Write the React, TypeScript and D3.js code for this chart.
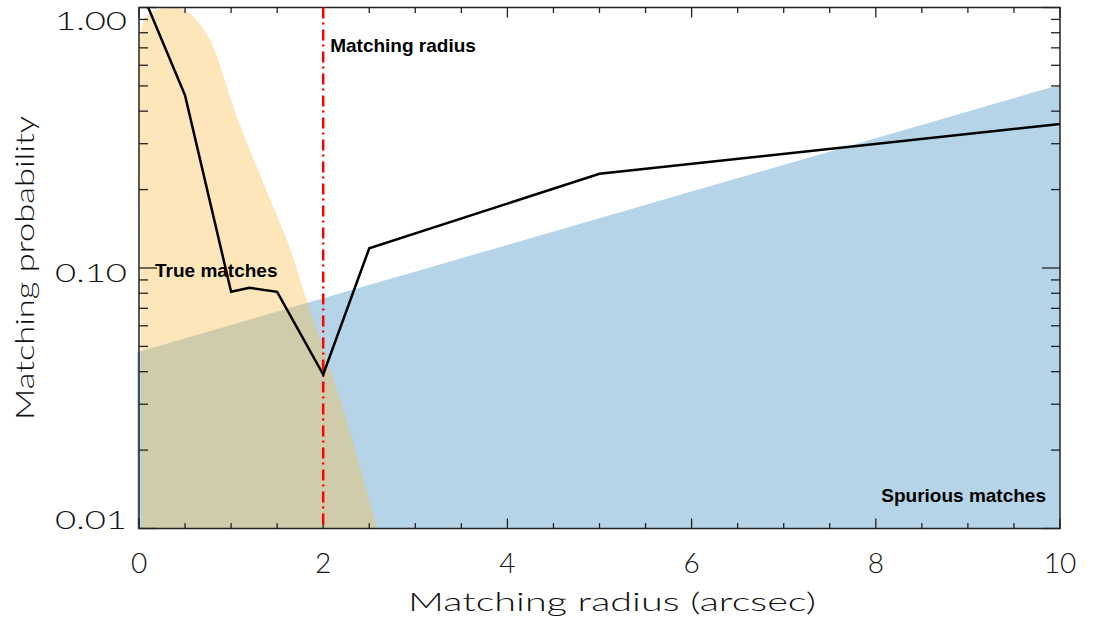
import React from "react";
import * as d3 from "d3";

// ---- data ----
const probX = [0.1, 0.5, 1.0, 1.2, 1.5, 2.0, 2.5, 5.0, 10];
const probY = [1.0, 0.46, 0.081, 0.084, 0.081, 0.039, 0.119, 0.23, 0.357];

const trueX = [0.033, 0.027, 0.016, 0.005, 0.011, 0.043, 0.098, 0.206, 0.391, 0.5, 0.63, 0.738, 0.825, 0.879, 0.952, 1.097, 1.278, 1.455, 1.64, 1.748, 1.821, 2.2, 2.584];
const trueY = [0.01, 0.0313, 0.183, 0.629, 0.798, 0.896, 0.953, 0.99, 1.0, 0.995, 0.896, 0.798, 0.687, 0.602, 0.496, 0.348, 0.245, 0.172, 0.121, 0.0902, 0.0741, 0.0313, 0.01];

const spurX = [-0.02, 10];
const spurY = [0.0475, 0.505];

const matchRadius = 2;

const xMajor = [0, 2, 4, 6, 8, 10];
const xMajorLabels = ["0", "2", "4", "6", "8", "10"];
const xMinor = d3.range(0, 10.01, 0.5);
const yMajor = [0.01, 0.1, 1];
const yMajorLabels = ["0.01", "0.10", "1.00"];
const yMinor = [0.02, 0.03, 0.04, 0.05, 0.06, 0.07, 0.08, 0.09, 0.2, 0.3, 0.4, 0.5, 0.6, 0.7, 0.8, 0.9];

const W = 1098, H = 621;
const L = 139, R = 1060, T = 7.5, B = 528.5;

export default function App() {
  const x = d3.scaleLinear().domain([0, 10]).range([L, R]);
  const y = d3.scaleLog().domain([0.01, 1]).range([B, T]);

  const probLine = d3.line<number>().x((d, i) => x(probX[i])).y((d, i) => y(probY[i]))(probX)!;
  const trueShape = d3
    .line<number>()
    .x((d, i) => x(trueX[i]))
    .y((d, i) => y(trueY[i]))
    .curve(d3.curveBasis)(trueX)! + "Z";
  const spurArea = d3
    .area<number>()
    .x((d, i) => x(spurX[i]))
    .y0(() => y(0.01))
    .y1((d, i) => y(spurY[i]))(spurX)!;

  const tickFont = "Lato, 'Open Sans', sans-serif";
  const boldFont = "'Liberation Sans', Arial, sans-serif";
  const axisCol = "#222";

  return (
    <svg width={W} height={H} style={{ position: "absolute", left: 0, top: 0, background: "#fff" }}>
      <defs>
        <clipPath id="plotclip">
          <rect x={L - 3} y={T} width={R - L + 3} height={B - T + 1} />
        </clipPath>
      </defs>
      <g clipPath="url(#plotclip)">
        <path d={spurArea} fill="#B5D4E8" />
        <path d={trueShape} fill="rgb(250,192,80)" fillOpacity={0.4} />
      </g>

      {/* frame */}
      <rect x={L} y={T} width={R - L} height={B - T} fill="none" stroke={axisCol} strokeWidth={1.5} />

      {/* x ticks bottom + top */}
      {xMinor.map((v, i) => {
        const major = Math.abs(v / 2 - Math.round(v / 2)) < 1e-6;
        const len = major ? 10 : 5.5;
        return (
          <g key={"xt" + i} stroke={axisCol} strokeWidth={1.3}>
            <line x1={x(v)} x2={x(v)} y1={B} y2={B - len} />
            <line x1={x(v)} x2={x(v)} y1={T} y2={T + len} />
          </g>
        );
      })}
      {/* y ticks left + right */}
      {yMinor.map((v, i) => (
        <g key={"ymin" + i} stroke={axisCol} strokeWidth={1.3}>
          <line x1={L} x2={L + 9} y1={y(v)} y2={y(v)} />
          <line x1={R} x2={R - 9} y1={y(v)} y2={y(v)} />
        </g>
      ))}
      {yMajor.map((v, i) => (
        <g key={"ymaj" + i} stroke={axisCol} strokeWidth={1.3}>
          <line x1={L} x2={L + 18} y1={y(v)} y2={y(v)} />
          <line x1={R} x2={R - 18} y1={y(v)} y2={y(v)} />
        </g>
      ))}

      {/* matching radius line */}
      <line
        x1={x(matchRadius)}
        x2={x(matchRadius)}
        y1={T}
        y2={B}
        stroke="#FF0000"
        strokeWidth={2.5}
        strokeDasharray="11,4,2,5"
      />

      {/* probability line */}
      <path d={probLine} fill="none" stroke="#000" strokeWidth={2.5} strokeLinejoin="miter" />

      {/* tick labels */}
      {xMajor.map((v, i) => (
        <text key={"xl" + i} x={x(v)} y={573} textAnchor="middle" fontFamily={tickFont} fontWeight={300} fontSize={28} fill="#111">
          {xMajorLabels[i]}
        </text>
      ))}
      {yMajor.map((v, i) => (
        <text
          key={"yl" + i}
          x={127}
          y={Math.min(Math.max(y(v) + 14, 30), 529)}
          textAnchor="end"
          fontFamily={tickFont}
          fontWeight={300}
          fontSize={25}
          textLength={72}
          lengthAdjust="spacingAndGlyphs"
          fill="#111"
        >
          {yMajorLabels[i]}
        </text>
      ))}

      {/* axis titles */}
      <text x={612} y={611} textAnchor="middle" fontFamily={tickFont} fontWeight={300} fontSize={26} fill="#111" textLength={408} lengthAdjust="spacingAndGlyphs">
        Matching radius (arcsec)
      </text>
      <text
        transform={`translate(34,${(T + B) / 2}) rotate(-90)`}
        textAnchor="middle"
        fontFamily={tickFont}
        fontWeight={300}
        fontSize={26}
        fill="#111"
        textLength={304}
        lengthAdjust="spacingAndGlyphs"
      >
        Matching probability
      </text>

      {/* annotations */}
      <text x={x(matchRadius) + 7} y={52} fontFamily={boldFont} fontWeight={700} fontSize={19} fill="#000">
        Matching radius
      </text>
      <text x={155} y={277} fontFamily={boldFont} fontWeight={700} fontSize={19} fill="#000">
        True matches
      </text>
      <text x={1046} y={502} textAnchor="end" fontFamily={boldFont} fontWeight={700} fontSize={19} fill="#000">
        Spurious matches
      </text>
    </svg>
  );
}
